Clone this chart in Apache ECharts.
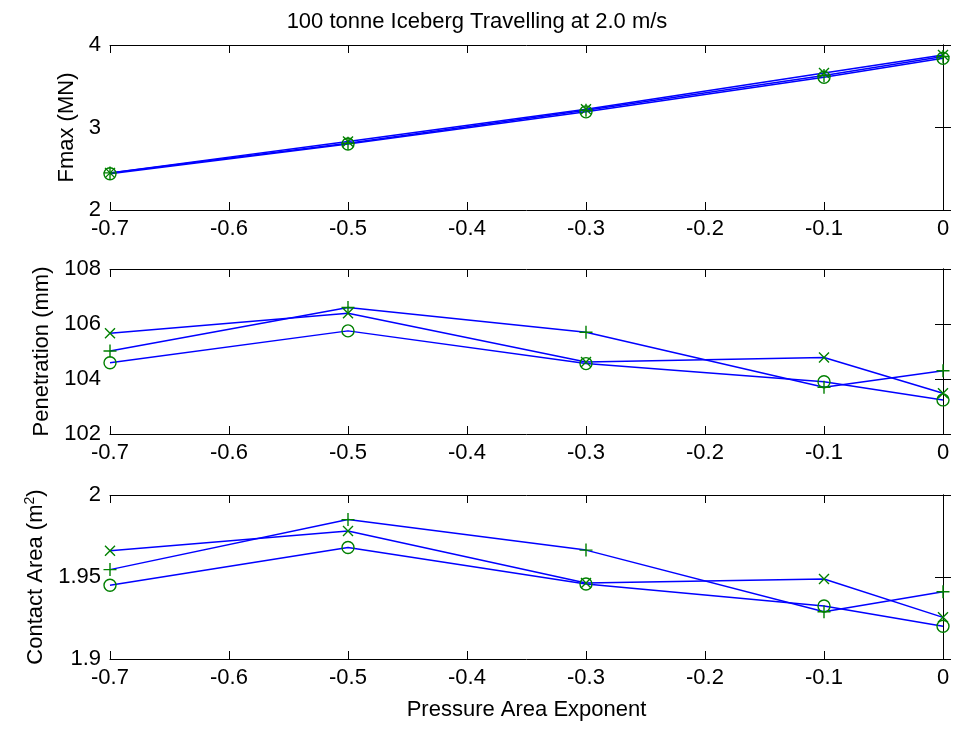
<!DOCTYPE html>
<html><head><meta charset="utf-8">
<script src="https://cdn.jsdelivr.net/npm/echarts@6/dist/echarts.min.js"></script>
<style>html,body{margin:0;padding:0;background:#fff}#c{width:954px;height:733px}</style>
</head><body><div id="c"></div>
<script>
// ---- data ----
const titleText = '100 tonne Iceberg Travelling at 2.0 m/s';
const xAxisTitle = 'Pressure Area Exponent';
const exponents = [-0.7, -0.5, -0.3, -0.1, 0];
const xTicks = [-0.7, -0.6, -0.5, -0.4, -0.3, -0.2, -0.1, 0];

const fmaxCross = [2.45, 2.83, 3.22, 3.66, 3.88];
const fmaxCircle = [2.44, 2.80, 3.19, 3.61, 3.84];
const fmaxPlus = [2.45, 2.81, 3.21, 3.63, 3.86];
const fmaxTicks = [2, 3, 4];

const penCross = [105.66, 106.39, 104.62, 104.78, 103.48];
const penCircle = [104.59, 105.75, 104.56, 103.90, 103.24];
const penPlus = [105.02, 106.60, 105.70, 103.70, 104.30];
const penTicks = [102, 104, 106, 108];

const areaCross = [1.966, 1.978, 1.9464, 1.9488, 1.9254];
const areaCircle = [1.945, 1.968, 1.9457, 1.9323, 1.920];
const areaPlus = [1.9545, 1.985, 1.9664, 1.9288, 1.941];
const areaTicks = [1.9, 1.95, 2];

// ---- chart ----
const FONT = 'Liberation Sans, Arial, sans-serif';
const FS = 22;
const LINE = '#0000ff';
const MARK = '#008000';
const SYM = {
  cross: 'path://M0,0L10,10M0,10L10,0',
  plus: 'path://M5,0L5,10M0,5L10,5',
  circle: 'circle'
};
const SYMSIZE = { cross: 10, plus: 13, circle: 12 };

const grids = [
  { left: 110, top: 45, width: 833, height: 165 },
  { left: 110, top: 269, width: 833, height: 165 },
  { left: 110, top: 495, width: 833, height: 164 }
];
const panels = [
  { name: 'Fmax (MN)', ticks: fmaxTicks, series: { cross: fmaxCross, circle: fmaxCircle, plus: fmaxPlus } },
  { name: 'Penetration (mm)', ticks: penTicks, series: { cross: penCross, circle: penCircle, plus: penPlus } },
  { name: 'Contact Area (m{sup|2})', ticks: areaTicks, series: { cross: areaCross, circle: areaCircle, plus: areaPlus } }
];

function fmtX(v) {
  if (Math.abs(v) < 1e-9) return '0';
  return String(Math.round(v * 10) / 10);
}
const axisLine = { show: true, lineStyle: { color: '#000', width: 1 } };
const xAxes = [], yAxes = [], series = [];
panels.forEach((p, i) => {
  const xmin = xTicks[0], xmax = xTicks[xTicks.length - 1];
  const xint = Math.round((xTicks[1] - xTicks[0]) * 100) / 100;
  xAxes.push({
    type: 'value', gridIndex: i, position: 'bottom', min: xmin, max: xmax, interval: xint,
    axisLine, axisTick: { inside: true, length: 8, lineStyle: { color: '#000' } },
    axisLabel: { formatter: fmtX, fontFamily: FONT, fontSize: FS, color: '#000', margin: 8 },
    splitLine: { show: false },
    name: i === 2 ? xAxisTitle : '', nameLocation: 'middle', nameGap: 40,
    nameTextStyle: { fontFamily: FONT, fontSize: FS, color: '#000' }
  });
  xAxes.push({
    type: 'value', gridIndex: i, position: 'top', min: xmin, max: xmax, interval: xint,
    axisLine, axisTick: { inside: true, length: 8, lineStyle: { color: '#000' } },
    axisLabel: { show: false }, splitLine: { show: false }
  });
  const ymin = p.ticks[0], ymax = p.ticks[p.ticks.length - 1];
  const yint = Math.round((p.ticks[1] - p.ticks[0]) * 1000) / 1000;
  yAxes.push({
    type: 'value', gridIndex: i, position: 'left', min: ymin, max: ymax, interval: yint,
    axisLine, axisTick: { inside: true, length: 8, lineStyle: { color: '#000' } },
    axisLabel: { fontFamily: FONT, fontSize: FS, color: '#000', margin: 9,
      formatter: v => String(Math.round(v * 1000) / 1000) },
    splitLine: { show: false },
    name: p.name, nameLocation: 'middle', nameRotate: 90, nameGap: 32,
    nameTextStyle: { fontFamily: FONT, fontSize: FS, color: '#000',
      rich: { sup: { fontFamily: FONT, fontSize: 14, color: '#000', padding: [0, 0, 12, 0] } } }
  });
  yAxes.push({
    type: 'value', gridIndex: i, position: 'right', min: ymin, max: ymax, interval: yint,
    axisLine, axisTick: { inside: true, length: 8, lineStyle: { color: '#000' } },
    axisLabel: { show: false }, splitLine: { show: false }
  });
  ['cross', 'circle', 'plus'].forEach(k => {
    series.push({
      type: 'line', xAxisIndex: i * 2, yAxisIndex: i * 2,
      data: exponents.map((x, j) => [x, p.series[k][j]]),
      symbol: SYM[k], symbolSize: SYMSIZE[k], showSymbol: true,
      lineStyle: { color: LINE, width: 1.5 },
      itemStyle: { color: 'rgba(0,0,0,0)', borderColor: MARK, borderWidth: 1.4 },
      emphasis: { disabled: true }, silent: true, clip: false
    });
  });
});

const chart = echarts.init(document.getElementById('c'), null, { renderer: 'canvas' });
chart.setOption({
  animation: false,
  backgroundColor: '#fff',
  title: { text: titleText, left: 'center', top: 6,
    textStyle: { fontFamily: FONT, fontSize: FS, fontWeight: 'normal', color: '#000' } },
  grid: grids,
  xAxis: xAxes,
  yAxis: yAxes,
  series
});
</script>
</body></html>
